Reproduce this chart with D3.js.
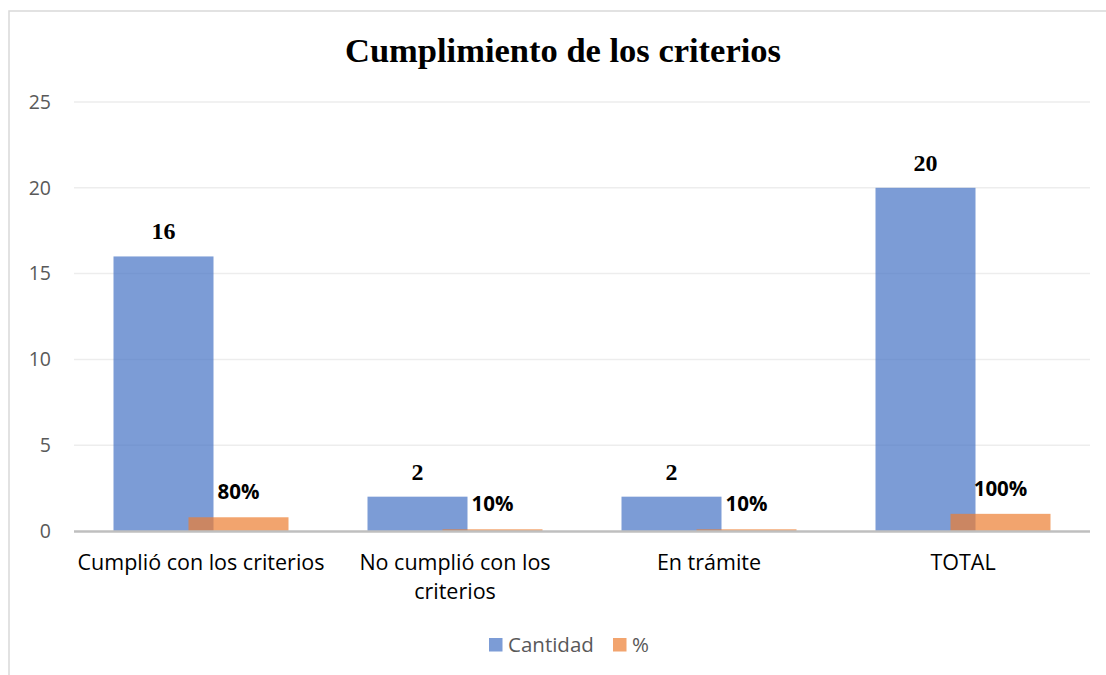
<!DOCTYPE html>
<html><head><meta charset="utf-8">
<script src="https://cdn.jsdelivr.net/npm/d3@7"></script>
<style>html,body{margin:0;padding:0;background:#fff;}svg{display:block;}</style>
</head><body>
<svg id="c" width="1106" height="675"></svg>
<script>
const categories = ["Cumplió con los criterios", "No cumplió con los criterios", "En trámite", "TOTAL"];
const categoryLines = [["Cumplió con los criterios"], ["No cumplió con los", "criterios"], ["En trámite"], ["TOTAL"]];
const cantidad = [16, 2, 2, 20];
const porcentaje = [0.8, 0.1, 0.1, 1.0];
const porcentajeLabels = ["80%", "10%", "10%", "100%"];
const seriesNames = ["Cantidad", "%"];
const yTicks = [0, 5, 10, 15, 20, 25];
const title = "Cumplimiento de los criterios";

const svg = d3.select("#c");
const W = 1106, H = 675;
const plot = {left: 74, right: 1090, top: 102, bottom: 531};
const blue = "#4472C4", orange = "#ED7D31", op = 0.7;

// chart border
svg.append("rect").attr("x", 9).attr("y", 11).attr("width", W + 20).attr("height", H + 20)
  .attr("fill", "#fff").attr("stroke", "#D9D9D9").attr("stroke-width", 1.5);

// title
svg.append("text").attr("x", 563).attr("y", 62).attr("text-anchor", "middle")
  .attr("font-family", "'Liberation Serif','Times New Roman',serif").attr("font-weight", "bold")
  .attr("font-size", 34.5).attr("fill", "#000").text(title);

const y = d3.scaleLinear().domain([0, 25]).range([plot.bottom, plot.top]);
const x = d3.scaleBand().domain(categories).range([plot.left, plot.right]).paddingInner(0).paddingOuter(0);
const barW = 100, overlap = 25;
const groupW = 2 * barW - overlap;
const sub = d3.scaleOrdinal().domain(seriesNames).range([-groupW / 2, -groupW / 2 + barW - overlap]);

// gridlines
svg.append("g").selectAll("line").data(yTicks.filter(d => d > 0)).join("line")
  .attr("x1", plot.left).attr("x2", plot.right)
  .attr("y1", d => y(d)).attr("y2", d => y(d))
  .attr("stroke", "#EDEDED").attr("stroke-width", 1.5);

// y axis labels
const yAxis = d3.axisLeft(y).tickValues(yTicks).tickSize(0).tickPadding(0);
const yg = svg.append("g").attr("transform", `translate(51,0)`).call(yAxis);
yg.select(".domain").remove();
yg.selectAll("text").attr("font-family", "'Open Sans',sans-serif").attr("font-size", 19.5).attr("fill", "#595959");

// bars
const cx = c => x(c) + x.bandwidth() / 2;
svg.append("g").selectAll("rect").data(categories).join("rect")
  .attr("x", (c) => cx(c) + sub("Cantidad"))
  .attr("y", (c, i) => y(cantidad[i]))
  .attr("width", barW)
  .attr("height", (c, i) => y(0) - y(cantidad[i]))
  .attr("fill", blue).attr("fill-opacity", op);
svg.append("g").selectAll("rect").data(categories).join("rect")
  .attr("x", (c) => cx(c) + sub("%"))
  .attr("y", (c, i) => y(porcentaje[i]))
  .attr("width", barW)
  .attr("height", (c, i) => y(0) - y(porcentaje[i]))
  .attr("fill", orange).attr("fill-opacity", op);

// x axis baseline
svg.append("line").attr("x1", plot.left).attr("x2", plot.right)
  .attr("y1", y(0) + 0.5).attr("y2", y(0) + 0.5).attr("stroke", "#BFBFBF").attr("stroke-width", 2.5);

// x labels
const xl = svg.append("g");
categories.forEach((c, i) => {
  const t = xl.append("text").attr("x", cx(c)).attr("y", 570).attr("text-anchor", "middle")
    .attr("font-family", "'Open Sans',sans-serif").attr("font-size", 21.5).attr("fill", "#000");
  categoryLines[i].forEach((ln, j) => {
    t.append("tspan").attr("x", cx(c)).attr("dy", j === 0 ? 0 : 29).text(ln);
  });
});

// data labels
svg.append("g").selectAll("text").data(categories).join("text")
  .attr("x", c => cx(c) + sub("Cantidad") + barW / 2)
  .attr("y", (c, i) => y(cantidad[i]) - 17)
  .attr("text-anchor", "middle")
  .attr("font-family", "'Liberation Serif','Times New Roman',serif").attr("font-weight", "bold")
  .attr("font-size", 24).attr("fill", "#000")
  .text((c, i) => cantidad[i]);
svg.append("g").selectAll("text").data(categories).join("text")
  .attr("x", c => cx(c) + sub("%") + barW / 2)
  .attr("y", (c, i) => y(porcentaje[i]) - 18)
  .attr("text-anchor", "middle")
  .attr("font-family", "'Open Sans',sans-serif").attr("font-weight", "bold")
  .attr("font-size", 20.5).attr("fill", "#000")
  .text((c, i) => porcentajeLabels[i]);

// legend
const lg = svg.append("g");
const legendItems = [{name: seriesNames[0], color: blue, x: 489}, {name: seriesNames[1], color: orange, x: 613}];
legendItems.forEach(d => {
  lg.append("rect").attr("x", d.x).attr("y", 638).attr("width", 13.5).attr("height", 13.5)
    .attr("fill", d.color).attr("fill-opacity", op);
  lg.append("text").attr("x", d.x + 19).attr("y", 652).attr("font-family", "'Open Sans',sans-serif")
    .attr("font-size", 20.5).attr("fill", "#595959").text(d.name);
});
</script>
</body></html>
